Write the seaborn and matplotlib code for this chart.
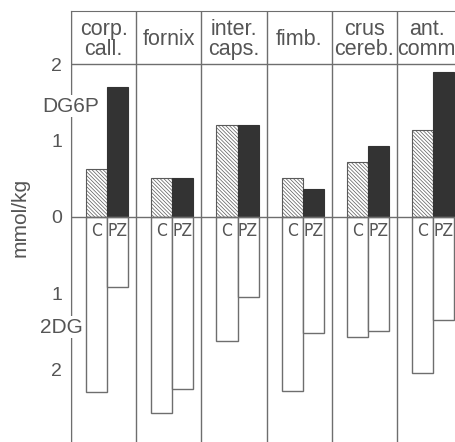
import matplotlib
matplotlib.use("Agg")
import matplotlib.pyplot as plt
from matplotlib import font_manager
import seaborn as sns
import pandas as pd
import numpy as np

regions = ["corp.\ncall.", "fornix", "inter.\ncaps.", "fimb.", "crus\ncereb.", "ant.\ncomm"]
groups = ["C", "PZ"]
dg6p_c = [0.63, 0.51, 1.21, 0.51, 0.72, 1.14]
dg6p_pz = [1.71, 0.51, 1.21, 0.37, 0.93, 1.91]
dg_c = [2.30, 2.58, 1.63, 2.29, 1.58, 2.05]
dg_pz = [0.92, 2.26, 1.05, 1.53, 1.50, 1.36]
yticks = [-2, -1, 0, 1, 2]
yticklabels = ["2", "1", "0", "1", "2"]

sns.set_style("white")
plt.rcParams['font.family'] = ['Liberation Sans', 'DejaVu Sans']
plt.rcParams['hatch.linewidth'] = 0.5

GRAY = "#6e6e6e"
TXT = "#555555"

# pick a condensed face for the C / PZ labels if one is installed
names = {f.name for f in font_manager.fontManager.ttflist}
narrow_kw = dict(family=["Liberation Sans"], fontsize=12)
if "Liberation Sans Narrow" in names:
    narrow_kw = dict(family=["Liberation Sans Narrow", "Liberation Sans"], fontsize=13.5)
elif any(f.name == "DejaVu Sans" and "ondensed" in f.fname for f in font_manager.fontManager.ttflist):
    narrow_kw = dict(family=["DejaVu Sans"], fontstretch="condensed", fontsize=12.5)

up = pd.DataFrame({
    "region": regions * 2,
    "group": ["C"] * 6 + ["PZ"] * 6,
    "value": dg6p_c + dg6p_pz,
})
down = pd.DataFrame({
    "region": regions * 2,
    "group": ["C"] * 6 + ["PZ"] * 6,
    "value": [-v for v in dg_c] + [-v for v in dg_pz],
})

fig = plt.figure(figsize=(4.56, 4.42), dpi=100)
ax = fig.add_axes([71 / 456, 0.0, 1 - 71 / 456, 431 / 442])

W = 0.646
sns.barplot(data=up, x="region", y="value", hue="group", order=regions,
            hue_order=groups, width=W, ax=ax, legend=False,
            palette={"C": "white", "PZ": "#333333"}, errorbar=None)
n_up = len(ax.patches)
sns.barplot(data=down, x="region", y="value", hue="group", order=regions,
            hue_order=groups, width=W, ax=ax, legend=False,
            palette={"C": "white", "PZ": "white"}, errorbar=None)

patches = ax.patches
for i, p in enumerate(patches):
    if i < n_up:
        if i < 6:  # C upper: hatched
            p.set_facecolor("white")
            p.set_edgecolor("#5a5a5a")
            p.set_hatch("\\" * 9)
            p.set_linewidth(0.8)
        else:
            p.set_facecolor("#333333")
            p.set_edgecolor("#333333")
            p.set_linewidth(0.8)
    else:
        p.set_facecolor("white")
        p.set_edgecolor(GRAY)
        p.set_linewidth(1.0)

left = -0.554
ax.set_xlim(left, left + 5.905)
ax.set_ylim(-2.96, 2.71)

# column dividers and horizontal lines
for i in range(len(regions)):
    ax.axvline(i + left, color=GRAY, lw=1.0, zorder=0)
ax.axhline(0, color=GRAY, lw=1.0, zorder=3)
ax.axhline(2.01, color=GRAY, lw=1.0, zorder=3)

# header labels
for i, r in enumerate(regions):
    xc = i + left + 0.5
    if i == len(regions) - 1:
        xc = i + left + 0.455
    ax.text(xc, 2.33, r, ha="center", va="center", fontsize=15.5,
            color=TXT, linespacing=0.95)

# C / PZ labels
for i in range(len(regions)):
    for j, g in enumerate(groups):
        ax.text(i + (j - 0.5) * W / 2, -0.19, g, ha="center", va="center",
                color=TXT, **narrow_kw)

ax.spines["top"].set_color(GRAY)
ax.spines["left"].set_color(GRAY)
ax.spines["right"].set_visible(False)
ax.spines["bottom"].set_visible(False)

ax.set_yticks(yticks)
ax.set_yticklabels(yticklabels)
ax.tick_params(axis="y", direction="in", length=6, width=1, colors=GRAY,
               labelcolor=TXT, labelsize=14, pad=6.5)
ax.set_xticks([])
ax.set_xlabel("")
ax.set_ylabel("")

ax.text(0.0, 1.46, "DG6P", transform=ax.get_yaxis_transform(), ha="center",
        va="center", fontsize=15, color=TXT, clip_on=False,
        bbox=dict(facecolor="white", edgecolor="none", pad=1))
ax.text(-10 / 385, -1.45, "2DG", transform=ax.get_yaxis_transform(), ha="center",
        va="center", fontsize=15, color=TXT, clip_on=False,
        bbox=dict(facecolor="white", edgecolor="none", pad=1))

fig.text(20 / 456, 1 - 217 / 442, "mmol/kg", rotation=90, ha="center",
         va="center", fontsize=15, color=TXT)

fig.savefig("out.png", dpi=100)
